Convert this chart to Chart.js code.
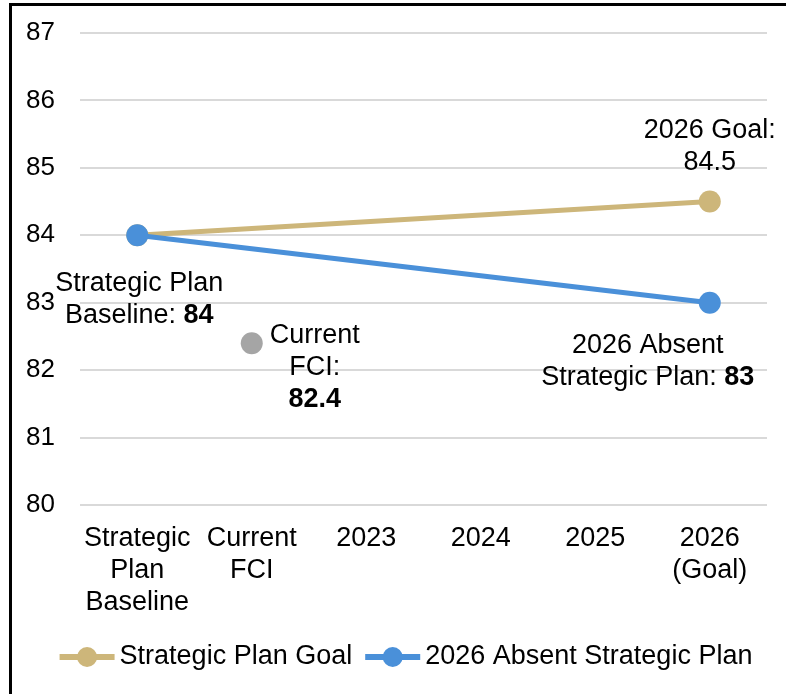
<!DOCTYPE html>
<html>
<head>
<meta charset="utf-8">
<script src="https://cdn.jsdelivr.net/npm/chart.js@4"></script>
<style>
  html, body { margin: 0; padding: 0; background: #fff; }
  #wrap { position: relative; width: 786px; height: 694px; overflow: hidden; }
  #frame { position: absolute; left: 9px; top: 3px; width: 800px; height: 800px; border: 3px solid #000; pointer-events: none; }
  canvas { position: absolute; left: 0; top: 0; }
</style>
</head>
<body>
<div id="wrap">
  <canvas id="myChart" width="786" height="694"></canvas>
  <div id="frame"></div>
</div>
<script>
// categories on the x axis
const categories = [
    ['Strategic', 'Plan', 'Baseline'],
    ['Current', 'FCI'],
    '2023',
    '2024',
    '2025',
    ['2026', '(Goal)']
];

// series
const goalValues = [84, null, null, null, null, 84.5];
const absentValues = [84, null, null, null, null, 83];
const currentFciValues = [null, 82.4, null, null, null, null];

// y axis range
const yMin = 80;
const yMax = 87;
const yStep = 1;

const seriesNames = ['Strategic Plan Goal', '2026 Absent Strategic Plan', 'Current FCI'];

const tan = '#cdb67a';
const blue = '#4a90d9';
const grey = '#a5a5a5';
const fontFamily = '"Liberation Sans", Arial, Helvetica, sans-serif';
const fontSize = 27;

// labels next to points: [datasetIndex, pointIndex, lines, dx, dy]
const pointLabels = [
    [1, 0, [[{ t: 'Strategic Plan' }], [{ t: 'Baseline: ' }, { t: String(absentValues[0]), b: true }]], 2, 48],
    [2, 1, [[{ t: 'Current' }], [{ t: 'FCI:' }], [{ t: String(currentFciValues[1]), b: true }]], 63, -8],
    [0, 5, [[{ t: '2026 Goal:' }], [{ t: String(goalValues[5]) }]], 0, -71],
    [1, 5, [[{ t: '2026 Absent' }], [{ t: 'Strategic Plan: ' }, { t: String(absentValues[5]), b: true }]], -62, 43]
];

const labelPlugin = {
    id: 'pointLabels',
    afterDatasetsDraw(chart) {
        const ctx = chart.ctx;
        ctx.save();
        ctx.fillStyle = '#000';
        ctx.textBaseline = 'middle';
        ctx.textAlign = 'left';
        pointLabels.forEach(([ds, idx, lines, dx, dy]) => {
            const pt = chart.getDatasetMeta(ds).data[idx];
            const cx = pt.x + dx;
            lines.forEach((segs, i) => {
                const y = pt.y + dy + i * 32;
                let total = 0;
                segs.forEach(s => {
                    ctx.font = (s.b ? 'bold ' : '') + fontSize + 'px ' + fontFamily;
                    s.w = ctx.measureText(s.t).width;
                    total += s.w;
                });
                let x = cx - total / 2;
                segs.forEach(s => {
                    ctx.font = (s.b ? 'bold ' : '') + fontSize + 'px ' + fontFamily;
                    ctx.fillText(s.t, x, y);
                    x += s.w;
                });
            });
        });
        ctx.restore();
    }
};

// legend: line with a dot, then the series name
const legendPlugin = {
    id: 'lineLegend',
    afterDraw(chart) {
        const ctx = chart.ctx;
        const sets = chart.data.datasets.slice(0, 2);
        const lineLen = 55, gap = 5, itemGap = 13;
        ctx.save();
        ctx.font = fontSize + 'px ' + fontFamily;
        ctx.textBaseline = 'middle';
        const widths = sets.map(d => lineLen + gap + ctx.measureText(d.label).width);
        const total = widths.reduce((a, b) => a + b, 0) + itemGap * (sets.length - 1);
        let x = 406 - total / 2;
        const y = 657;
        sets.forEach((d, i) => {
            ctx.strokeStyle = d.borderColor;
            ctx.lineWidth = 6;
            ctx.beginPath();
            ctx.moveTo(x, y);
            ctx.lineTo(x + lineLen, y);
            ctx.stroke();
            ctx.fillStyle = d.borderColor;
            ctx.beginPath();
            ctx.arc(x + lineLen / 2, y, 10, 0, Math.PI * 2);
            ctx.fill();
            ctx.fillStyle = '#000';
            ctx.fillText(d.label, x + lineLen + gap, y);
            x += widths[i] + itemGap;
        });
        ctx.restore();
    }
};

const ctx = document.getElementById('myChart');

new Chart(ctx, {
    type: 'line',
    data: {
        labels: categories,
        datasets: [
            {
                label: seriesNames[0],
                data: goalValues,
                borderColor: tan,
                backgroundColor: tan,
                borderWidth: 5,
                pointRadius: 11,
                pointBorderWidth: 0,
                spanGaps: true,
                order: 2,
            },
            {
                label: seriesNames[1],
                data: absentValues,
                borderColor: blue,
                backgroundColor: blue,
                borderWidth: 5,
                pointRadius: 11,
                pointBorderWidth: 0,
                spanGaps: true,
                order: 1,
            },
            {
                label: seriesNames[2],
                data: currentFciValues,
                borderColor: grey,
                backgroundColor: grey,
                showLine: false,
                pointRadius: 11,
                pointBorderWidth: 0,
                order: 0,
            },
        ]
    },
    options: {
        responsive: false,
        animation: false,
        layout: {
            autoPadding: false,
            padding: { left: 0, right: 19, top: 33, bottom: 0 }
        },
        font: { family: fontFamily, size: fontSize },
        plugins: {
            tooltip: { enabled: false },
            legend: { display: false }
        },
        scales: {
            x: {
                offset: true,
                grid: { display: false },
                border: { display: false },
                ticks: {
                    color: '#000',
                    padding: 9,
                    maxRotation: 0,
                    autoSkip: false,
                    font: { family: fontFamily, size: fontSize, lineHeight: 1.19 }
                },
                afterFit(scale) { scale.height = 189; }
            },
            y: {
                min: yMin,
                max: yMax,
                border: { display: false },
                grid: { color: '#d9d9d9', lineWidth: 2, drawTicks: false },
                ticks: {
                    stepSize: yStep,
                    color: '#000',
                    padding: 25,
                    font: { family: fontFamily, size: 26 }
                },
                afterFit(scale) {
                    scale.width = 80;
                    scale.paddingTop = 0;
                    scale.paddingBottom = 0;
                }
            }
        }
    },
    plugins: [labelPlugin, legendPlugin]
});
</script>
</body>
</html>
